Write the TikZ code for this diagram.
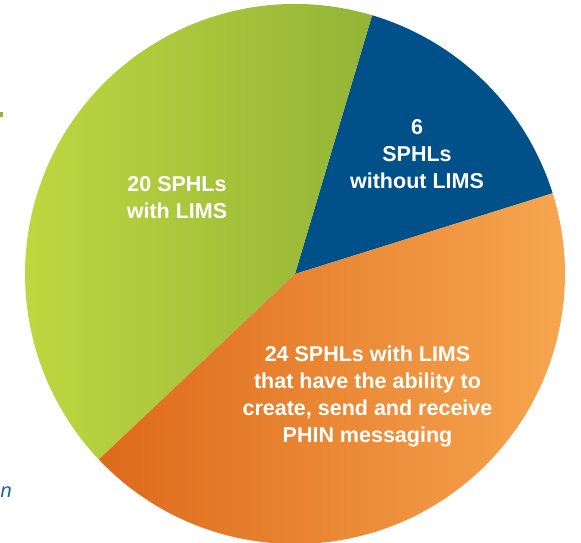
\documentclass[tikz,border=0pt]{standalone}
\usepackage{fontspec}
\setmainfont{Liberation Sans}
\definecolor{greenL}{HTML}{C1D840}
\definecolor{greenR}{HTML}{93B437}
\definecolor{blueS}{HTML}{00508A}
\definecolor{orangeL}{HTML}{DD6A1B}
\definecolor{orangeR}{HTML}{F8A852}
\definecolor{textblue}{HTML}{1A5C9E}
\begin{document}
\begin{tikzpicture}[x=1pt,y=1pt,
  lbl/.style={text=white,font=\fontsize{21.5}{27}\selectfont\bfseries,align=center,anchor=base,inner sep=0pt}]
\useasboundingbox (0,0) rectangle (581,543);
\coordinate (c) at (295,269);
% blue sector
\fill[blueS] (c) -- ++(17.4:270) arc[start angle=17.4,end angle=73.4,radius=270] -- cycle;
% green sector
\shade[left color=greenL,right color=greenR] (c) -- ++(73.4:270) arc[start angle=73.4,end angle=223.4,radius=270] -- cycle;
% orange sector
\shade[left color=orangeL,right color=orangeR] (c) -- ++(223.4:270) arc[start angle=223.4,end angle=377.4,radius=270] -- cycle;
% labels (anchor = baseline of last line)
\node[lbl] (green) at (177,324) {20 SPHLs\\with LIMS};
\node[lbl] (blue) at (417,354) {6\\SPHLs\\without LIMS};
\node[lbl] (orange) at (367.5,100) {24 SPHLs with LIMS\\that have the ability to\\create, send and receive\\PHIN messaging};
% cropped fragments at the left edge
\node[text=textblue,font=\fontsize{20}{22}\selectfont\itshape,anchor=base east,inner sep=0pt] (frag) at (12,45) {n};
\fill[greenR] (0,426) rectangle (2.5,431);
\end{tikzpicture}
\end{document}
